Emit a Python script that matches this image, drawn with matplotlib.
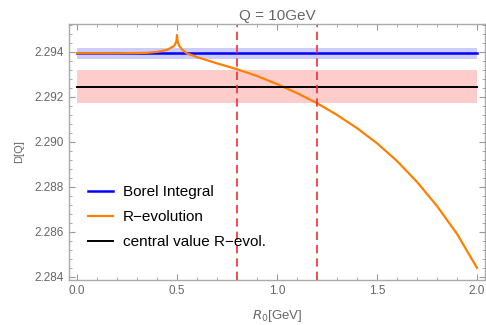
import matplotlib.pyplot as plt
import numpy as np
from matplotlib.ticker import MultipleLocator

plt.rcParams['font.family'] = ['Liberation Sans', 'DejaVu Sans']

# values
r0 = [0.0, 0.1, 0.2, 0.3, 0.35, 0.4, 0.45, 0.483, 0.49, 0.497, 0.5, 0.503, 0.51,
      0.525, 0.55, 0.6, 0.7, 0.8, 0.9, 1.0, 1.1, 1.2, 1.3, 1.4, 1.5, 1.6, 1.7,
      1.8, 1.9, 2.0]
d_revol = [2.29393, 2.29393, 2.29393, 2.29394, 2.29395, 2.29399, 2.29408, 2.29424,
           2.29432, 2.29446, 2.29474, 2.29446, 2.29428, 2.29410, 2.29392, 2.29376,
           2.29348, 2.29322, 2.29292, 2.29256, 2.29216, 2.29171, 2.29119, 2.29060,
           2.28993, 2.28914, 2.28821, 2.28714, 2.28590, 2.28439]

borel_central = 2.29392
borel_lo, borel_hi = 2.29367, 2.29415
revol_central = 2.29244
revol_lo, revol_hi = 2.29170, 2.29320
band_x = [0.0, 2.0]
r0_window = [0.8, 1.2]

gray = '#666666'

fig = plt.figure(figsize=(4.86, 3.25), dpi=100)
ax = fig.add_axes([69 / 486, 45 / 325, 416 / 486, 256 / 325])

ax.fill_between(band_x, borel_lo, borel_hi, color='#ccccff', lw=0)
ax.fill_between(band_x, revol_lo, revol_hi, color='#ffcccc', lw=0)

ax.plot(band_x, [borel_central] * 2, color='#0000ff', lw=1.8, label='Borel Integral')
ax.plot(r0, d_revol, color='#ff8000', lw=1.6, label='R\u2212evolution')
ax.plot(band_x, [revol_central] * 2, color='black', lw=1.4, label='central value R\u2212evol.')

for xv in r0_window:
    ax.axvline(xv, color='#f03030', lw=1.2, ls=(0, (5, 3)))

ax.set_xlim(-0.04, 2.04)
ax.set_ylim(2.28385, 2.29523)

ax.xaxis.set_major_locator(MultipleLocator(0.5))
ax.xaxis.set_minor_locator(MultipleLocator(0.1))
ax.yaxis.set_major_locator(MultipleLocator(0.002))
ax.yaxis.set_minor_locator(MultipleLocator(0.0004))
ax.xaxis.set_major_formatter(plt.FuncFormatter(lambda v, p: '%.1f' % v))
ax.yaxis.set_major_formatter(plt.FuncFormatter(lambda v, p: '%.3f' % v))

ax.tick_params(which='both', direction='in', top=True, right=True,
               color='#999999', labelcolor=gray, labelsize=8.5)
ax.tick_params(which='major', length=4, width=0.8)
ax.tick_params(which='minor', length=2.5, width=0.6)
for s in ax.spines.values():
    s.set_color('#aaaaaa')
    s.set_linewidth(1.0)

ax.set_title('Q = 10GeV', fontsize=11, color=gray, pad=3)
ax.set_xlabel('$R_0$[GeV]', fontsize=9.5, color=gray, labelpad=8)
ax.set_ylabel('D[Q]', fontsize=8, color=gray, labelpad=8)

ax.legend(loc='center left', bbox_to_anchor=(0.0457, 0.246), frameon=False,
          fontsize=11, handlelength=1.65, labelspacing=0.72, handletextpad=0.65,
          borderpad=0, borderaxespad=0)

fig.savefig('out.png', dpi=100)
